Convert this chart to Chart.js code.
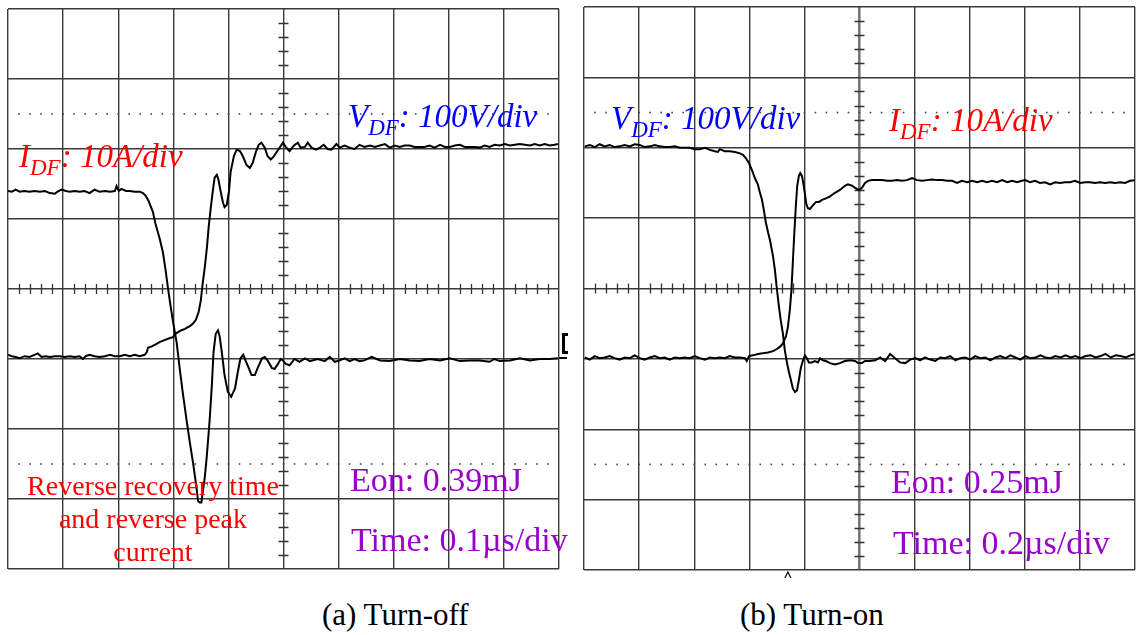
<!DOCTYPE html>
<html>
<head>
<meta charset="utf-8">
<script src="https://cdn.jsdelivr.net/npm/chart.js@4.4.1/dist/chart.umd.min.js"></script>
<style>
  body { margin: 0; background: #fff; width: 1138px; height: 635px; position: relative; overflow: hidden;
         font-family: "Liberation Serif", "Times New Roman", serif; }
  canvas { position: absolute; top: 0; }
  .lbl { position: absolute; white-space: nowrap; line-height: 1; }
  .it { font-family: "Liberation Serif", serif; font-style: italic; font-size: 33px; }
  .sub { font-size: 23px; position: relative; top: 8px; }
  .red { color: #ff0000; }
  .blue { color: #0000ff; }
  .purple { color: #9900cc; font-size: 34px; }
  .cap { font-size: 31px; color: #000; }
</style>
</head>
<body>
<canvas id="scopeOff" width="570" height="580" style="left:0"></canvas>
<canvas id="scopeOn" width="562" height="580" style="left:576px"></canvas>

<div class="lbl it red" style="left:19px;top:140px">I<span class="sub">DF</span>: 10A/div</div>
<div class="lbl it blue" style="left:348px;top:100px">V<span class="sub">DF</span>: 100V/div</div>
<div class="lbl it blue" style="left:611px;top:102px">V<span class="sub">DF</span>: 100V/div</div>
<div class="lbl it red" style="left:889px;top:104px">I<span class="sub">DF</span>: 10A/div</div>

<div class="lbl purple" style="left:350px;top:463px">Eon: 0.39mJ</div>
<div class="lbl purple" style="left:351px;top:523px">Time: 0.1µs/div</div>
<div class="lbl purple" style="left:891px;top:465px">Eon: 0.25mJ</div>
<div class="lbl purple" style="left:893px;top:526px">Time: 0.2µs/div</div>

<div class="lbl red" style="left:3px;top:469px;width:300px;text-align:center;font-size:28px;line-height:33px;white-space:normal">Reverse recovery time<br>and reverse peak<br>current</div>

<div class="lbl cap" style="left:322px;top:599px">(a) Turn-off</div>
<div class="lbl cap" style="left:740px;top:599px">(b) Turn-on</div>

<script>
// (a) turn-off: time in ns, current in A, voltage in V
const offCurrentT = [0,7,14,21,30,39,48,58,67,76,
  85,90,97,105,112,121,130,139,148,157,
  166,176,185,194,197,201,206,214,221,230,
  239,245,250,255,263,268,275,281,286,290,
  295,300,306,312,317,324,330,336,342,345,
  348,351,353,357,361,366,370,373,377,381,
  384,388,393,399,405,412,417,422,427,431,
  437,442,448,453,461,466,471,479,484,490,
  495,499,504,511,520,529,539,548,562,575,
  584,593,602,611,620,629,638,647,660,675,
  693,711,729,747,765,784,802,820,838,856,
  874,883,892,911,929,947,965,983,998];
const offCurrent = [24.0,23.9,24.2,23.9,24.0,23.9,24.0,23.9,24.0,23.7,
  23.6,23.9,24.2,24.0,23.9,24.0,23.9,24.0,23.7,24.2,
  23.9,24.0,23.9,24.0,24.7,24.0,24.3,24.0,24.0,23.9,
  23.9,23.7,23.3,22.6,21.0,19.2,17.3,15.3,12.7,10.3,
  7.6,5.1,2.4,-1.6,-4.7,-8.7,-11.9,-14.9,-18.3,-20.3,
  -20.5,-20.5,-19.3,-17.0,-13.7,-8.7,-3.7,1.0,3.6,4.1,
  3.3,1.0,-2.3,-4.7,-5.4,-4.2,-1.9,0.1,0.6,-0.2,
  -1.3,-2.3,-2.3,-1.3,0.1,0.3,-0.2,-1.3,-1.4,-0.7,
  0.0,-0.2,-0.7,-0.9,0.0,-0.4,0.1,-0.3,0.0,-0.3,
  0.3,-0.4,-0.2,0.1,-0.3,0.0,-0.3,-0.2,0.3,-0.2,
  -0.3,0.0,-0.2,-0.3,0.0,-0.2,0.1,-0.3,-0.2,-0.2,
  -0.4,0.0,-0.3,-0.2,0.1,-0.2,0.0,0.0,0.1];

const offVoltT = [0,7,14,21,30,39,48,54,61,68,
  76,85,94,103,112,121,130,136,141,148,
  157,166,176,185,194,203,212,221,230,239,
  248,252,254,261,268,275,284,294,299,304,
  312,321,330,335,341,346,350,353,357,361,
  364,368,372,375,379,382,386,390,393,397,
  401,404,410,415,421,426,433,439,444,450,
  455,460,466,471,477,482,488,493,499,504,
  511,519,526,531,539,544,551,559,566,573,
  580,587,596,602,611,620,629,638,647,657,
  666,675,684,693,702,711,720,729,738,747,
  756,765,774,784,793,802,811,820,829,838,
  847,856,865,874,883,892,902,911,920,929,
  938,947,956,965,974,983,992,998];
const offVolt = [6,4,3,1,4,3,6,8,3,4,
  3,4,4,3,4,3,4,0,4,6,
  4,3,4,6,4,4,6,4,6,4,
  6,10,16,18,21,24,27,30,31,36,
  40,43,47,50,56,67,84,106,130,159,
  187,216,242,259,263,256,239,224,217,220,
  239,267,290,299,297,290,277,273,280,296,
  306,309,302,290,285,289,296,302,309,303,
  297,305,309,302,303,309,302,299,302,306,
  300,299,307,302,305,302,300,306,303,305,
  303,305,307,302,305,303,305,305,303,303,
  303,305,302,306,303,303,305,306,303,303,
  303,302,305,303,306,305,307,305,306,307,
  306,305,307,305,307,305,306,307];

// (b) turn-on
const onVoltT = [3,21,39,57,75,93,111,129,148,166,
  184,202,220,239,257,275,293,311,329,348,
  366,384,402,420,439,457,475,486,493,511,
  529,548,566,577,588,599,610,620,631,638,
  646,653,660,668,675,686,693,700,707,714,
  722,729,737,744,751,758,766,773,780,787,
  795,802,809,816,827,838,849,857,867,878,
  893,911,929,947,966,984,995,1009,1020,1038,
  1057,1075,1093,1111,1129,1147,1166,1184,1202,1220,
  1238,1257,1275,1293,1311,1329,1348,1366,1384,1402,
  1420,1439,1457,1475,1493,1511,1530,1548,1566,1584,
  1602,1620,1639,1657,1675,1693,1711,1730,1748,1766,
  1784,1802,1821,1839,1857,1875,1893,1912,1930,1948,
  1966,1984,2000];
const onVolt = [302,304,301,305,302,304,301,302,304,302,
  305,304,301,302,304,302,301,301,302,300,
  300,300,298,298,300,297,295,294,298,295,
  295,294,292,290,285,278,268,257,248,237,
  226,211,194,180,169,146,126,100,76,55,
  36,12,-6,-19,-30,-42,-47,-45,-30,-13,
  -2,5,1,-5,-5,-3,-5,1,-2,-3,
  -6,-8,-6,-3,-2,-3,-6,-6,-3,-3,
  -2,2,-3,7,1,-5,-6,-1,1,-2,
  2,-1,-3,2,1,4,-2,1,2,-1,
  4,1,2,-2,2,4,1,5,2,-1,
  4,1,2,5,2,1,4,2,5,2,
  4,1,4,5,2,4,7,2,5,4,
  2,5,7];

const onCurrentT = [3,21,39,57,75,93,111,129,148,166,
  184,202,220,239,257,275,293,311,329,348,
  366,384,402,420,439,457,475,493,511,529,
  548,566,584,591,599,613,631,649,668,686,
  700,711,722,733,740,747,753,758,763,769,
  774,780,785,791,796,802,807,813,820,831,
  842,853,864,878,893,911,929,947,958,973,
  984,998,1009,1020,1031,1045,1063,1082,1100,1118,
  1136,1154,1172,1191,1209,1227,1245,1263,1282,1300,
  1318,1336,1354,1372,1391,1409,1427,1445,1463,1481,
  1499,1518,1536,1554,1572,1590,1601,1619,1637,1655,
  1673,1692,1710,1728,1746,1764,1782,1801,1819,1837,
  1855,1873,1891,1910,1928,1946,1964,1982,2000];
const onCurrent = [0.2,-0.1,0.4,0.1,0.2,0.4,0.1,-0.1,0.2,0.1,
  0.5,0.1,-0.1,0.2,0.4,0.1,0.2,-0.1,0.2,0.1,
  0.2,0.1,0.4,0.1,-0.1,0.2,0.1,0.2,0.1,0.4,
  0.2,0.2,0.1,-0.3,0.4,0.5,0.7,0.8,0.9,1.1,
  1.4,1.7,2.2,3.2,4.5,6.9,9.8,13.7,17.6,21.8,
  24.6,26.0,26.4,26.0,25.0,23.4,22.0,21.4,21.3,21.8,
  22.3,22.3,22.6,22.8,23.1,23.6,24.0,24.6,24.8,24.6,
  24.3,24.0,24.3,25.0,25.3,25.4,25.4,25.4,25.3,25.3,
  25.4,25.3,25.4,25.7,25.4,25.3,25.4,25.5,25.4,25.4,
  25.3,25.3,25.0,25.3,25.1,25.3,25.1,25.3,25.1,25.3,
  25.1,25.4,25.1,25.3,25.1,25.3,25.4,25.1,25.3,25.0,
  25.1,24.8,25.1,25.0,25.1,25.1,25.3,25.0,25.1,25.1,
  25.0,25.1,25.0,25.1,25.0,25.1,25.0,25.3,25.4];

// screen: 10 x 8 divisions, 10 A/div and 100 V/div, zero at -1 div
const ampRange = [-30, 50];
const voltRange = [-300, 500];

function pts(t, v) {
  return t.map((x, i) => ({ x: x, y: v[i] }));
}

// graticule details: minor ticks on the centre axes, dotted lines, markers
const scopeMarks = {
  id: 'scopeMarks',
  beforeDatasetsDraw(chart, args, opts) {
    const { ctx } = chart;
    const xs = chart.scales.x, ys = chart.scales.yI;
    const xDiv = (xs.max - xs.min) / 10, yDiv = (ys.max - ys.min) / 8;
    const cx = xs.getPixelForValue(xs.min + 5 * xDiv);
    const cy = ys.getPixelForValue(ys.min + 4 * yDiv);
    ctx.save();
    ctx.strokeStyle = '#333';
    ctx.lineWidth = 1.3;
    ctx.beginPath();
    for (let k = 1; k < 50; k++) {
      if (k % 5 === 0) continue;
      const px = Math.round(xs.getPixelForValue(xs.min + k * xDiv / 5)) + 0.5;
      ctx.moveTo(px, cy - 5);
      ctx.lineTo(px, cy + 5);
    }
    for (let k = 1; k < 40; k++) {
      if (k % 5 === 0) continue;
      const py = Math.round(ys.getPixelForValue(ys.min + k * yDiv / 5)) + 0.5;
      ctx.moveTo(cx - 5, py);
      ctx.lineTo(cx + 5, py);
    }
    ctx.stroke();
    ctx.fillStyle = '#444';
    [1.5, 6.5].forEach(d => {
      const py = ys.getPixelForValue(ys.min + d * yDiv);
      for (let k = 1; k < 50; k++) {
        const px = xs.getPixelForValue(xs.min + k * xDiv / 5);
        ctx.fillRect(px - 0.8, py - 0.8, 1.6, 1.6);
      }
    });
    ctx.restore();
  },
  afterDraw(chart, args, opts) {
    const { ctx, chartArea: a } = chart;
    const xs = chart.scales.x, ys = chart.scales.yI;
    ctx.save();
    ctx.fillStyle = '#000';
    ctx.strokeStyle = '#000';
    if (opts.ground) {
      const zy = Math.round(ys.getPixelForValue(0));
      ctx.fillRect(a.right + 3, zy - 26, 3, 21);
      ctx.fillRect(a.right + 3, zy - 26, 6, 3);
      ctx.fillRect(a.right + 3, zy - 8, 6, 3);
      ctx.fillRect(a.right, zy - 2, 8, 2);
    }
    if (opts.trigger !== undefined) {
      const px = xs.getPixelForValue(opts.trigger);
      const by = a.bottom + 1;
      ctx.lineWidth = 1.2;
      ctx.beginPath();
      ctx.moveTo(px - 3, by + 7);
      ctx.lineTo(px, by + 1);
      ctx.lineTo(px + 3, by + 7);
      ctx.stroke();
    }
    ctx.restore();
  }
};

function makeScope(id, span, current, voltage, padding, marks, thickCentre) {
  const trace = { showLine: true, pointRadius: 0, borderColor: '#000', borderWidth: 2, tension: 0 };
  const grid = {
    drawTicks: false,
    color: ctx => (thickCentre && ctx.tick && ctx.tick.value === span / 2) ? '#777' : '#3a3a3a',
    lineWidth: ctx => (thickCentre && ctx.tick && ctx.tick.value === span / 2) ? 2.6 : 1.4
  };
  return new Chart(document.getElementById(id), {
    type: 'scatter',
    data: {
      datasets: [
        Object.assign({ data: current, yAxisID: 'yI' }, trace),
        Object.assign({ data: voltage, yAxisID: 'yV' }, trace)
      ]
    },
    options: {
      responsive: false,
      animation: false,
      devicePixelRatio: 1,
      layout: { padding: padding },
      plugins: { legend: { display: false }, tooltip: { enabled: false }, scopeMarks: marks },
      scales: {
        x: { type: 'linear', min: 0, max: span, ticks: { display: false, stepSize: span / 10 },
             grid: grid, border: { display: false } },
        yI: { type: 'linear', position: 'left', min: ampRange[0], max: ampRange[1],
              ticks: { display: false, stepSize: 10 },
              grid: { drawTicks: false, color: '#3a3a3a', lineWidth: 1.4 }, border: { display: false } },
        yV: { type: 'linear', display: false, min: voltRange[0], max: voltRange[1] }
      }
    },
    plugins: [scopeMarks]
  });
}

makeScope('scopeOff', 1000, pts(offCurrentT, offCurrent), pts(offVoltT, offVolt),
  { left: 8, top: 9, right: 11, bottom: 11 }, { ground: true }, false);
makeScope('scopeOn', 2000, pts(onCurrentT, onCurrent), pts(onVoltT, onVolt),
  { left: 8, top: 7, right: 3, bottom: 10 }, { trigger: 740 }, true);
</script>
</body>
</html>
